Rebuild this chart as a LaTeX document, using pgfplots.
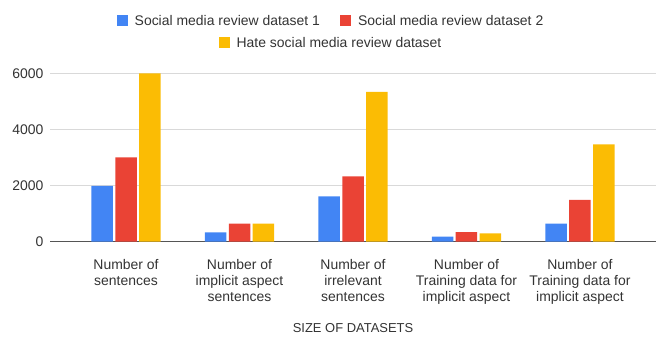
\documentclass[border=0pt]{standalone}
\usepackage{pgfplots}
\pgfplotsset{compat=1.18}
\usepackage{fontspec}
\setmainfont{Liberation Sans}
\definecolor{gblue}{HTML}{4285F4}
\definecolor{gred}{HTML}{EA4335}
\definecolor{gyellow}{HTML}{FBBC04}
\definecolor{ggrid}{HTML}{D9D9D9}
\definecolor{gaxis}{HTML}{555555}
\definecolor{gtext}{HTML}{333333}
\begin{document}
\begin{tikzpicture}[x=1bp,y=1bp]
\useasboundingbox (0,0) rectangle (659,336);
\begin{axis}[
  at={(50bp,94.3bp)}, anchor=south west,
  width=606bp, height=168.4bp, scale only axis,
  xmin=-0.67, xmax=4.67, ymin=0, ymax=6000,
  ybar=2.4bp, bar width=21.5bp,
  axis lines=left, axis line style={-},
  y axis line style={draw=none},
  x axis line style={draw=gaxis, line width=0.9bp},
  major tick length=0pt,
  ymajorgrids, grid style={ggrid, line width=0.8bp},
  ytick={0,2000,4000,6000},
  scaled y ticks=false,
  /pgf/number format/assume math mode=true,
  yticklabel={\pgfmathprintnumber[1000 sep={}]{\tick}},
  y tick label style={font=\fontsize{14}{16}\selectfont, text=gtext, xshift=-3bp},
  xtick={0,1,2,3,4},
  xticklabels={{Number of\\sentences},{Number of\\implicit aspect\\sentences},{Number of\\irrelevant\\sentences},{Number of\\Training data for\\implicit aspect},{Number of\\Training data for\\implicit aspect}},
  x tick label style={font=\fontsize{14}{16}\selectfont, text=gtext, align=center, anchor=north, yshift=-14bp},
  xlabel={SIZE OF DATASETS},
  xlabel style={font=\fontsize{13}{15}\selectfont, text=gtext, at={(axis description cs:0.5,-0.5125)}, anchor=center},
]
\addplot[fill=gblue, draw=none] coordinates {(0,1990) (1,335) (2,1615) (3,180) (4,645)};
\addplot[fill=gred, draw=none] coordinates {(0,3005) (1,645) (2,2330) (3,345) (4,1490)};
\addplot[fill=gyellow, draw=none] coordinates {(0,6000) (1,645) (2,5335) (3,300) (4,3470)};
\end{axis}
\node[font=\fontsize{14}{16}\selectfont, text=gtext, inner sep=0pt] at (330,316) {\textcolor{gblue}{\rule[-0.5bp]{11bp}{11bp}}\hspace{7bp}Social media review dataset 1\hspace{20bp}\textcolor{gred}{\rule[-0.5bp]{11bp}{11bp}}\hspace{7bp}Social media review dataset 2};
\node[font=\fontsize{14}{16}\selectfont, text=gtext, inner sep=0pt] at (330,294) {\textcolor{gyellow}{\rule[-0.5bp]{11bp}{11bp}}\hspace{7bp}Hate social media review dataset};
\end{tikzpicture}
\end{document}
